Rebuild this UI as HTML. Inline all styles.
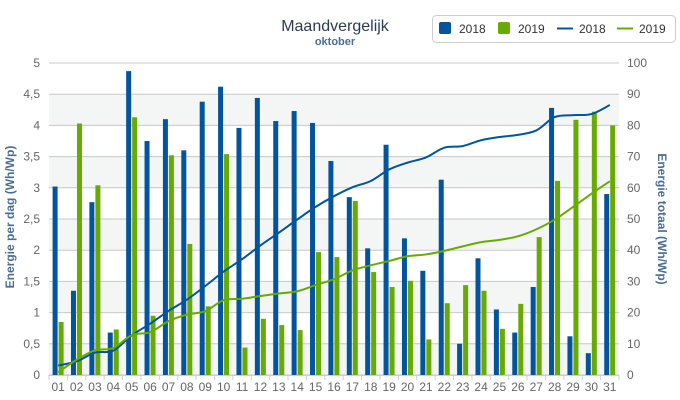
<!DOCTYPE html>
<html><head><meta charset="utf-8"><style>
html,body{margin:0;padding:0;background:#fff;}
svg{display:block;font-family:"Liberation Sans",sans-serif;}
</style></head><body>
<svg id="s" width="680" height="400" xmlns="http://www.w3.org/2000/svg"></svg>
<script>
const B=[3.02,1.35,2.77,0.68,4.87,3.75,4.1,3.6,4.38,4.62,3.96,4.44,4.07,4.23,4.04,3.43,2.85,2.03,3.69,2.19,1.67,3.13,0.5,1.87,1.05,0.68,1.41,4.28,0.62,0.35,2.9];
const G=[0.85,4.03,3.04,0.73,4.13,0.95,3.52,2.1,1.1,3.54,0.44,0.9,0.8,0.72,1.97,1.89,2.79,1.65,1.41,1.51,0.57,1.15,1.44,1.35,0.74,1.14,2.21,3.11,4.09,4.22,4.0];
const L=49,R=619,T=63,Bt=375,H=Bt-T,W=R-L,sw=W/31;
const y=v=>Bt-v/5*H, y2=v=>Bt-v/100*H;
let s='';
for(let i=0;i<10;i+=2){s+=`<rect x="${L}" y="${y(i*0.5+0.5)}" width="${W}" height="${H/10}" fill="#f4f5f5"/>`;}
for(let i=0;i<=10;i++){const yy=y(i*0.5);s+=`<line x1="${L}" x2="${R}" y1="${yy}" y2="${yy}" stroke="#c8c8c8" stroke-width="1"/>`;
s+=`<text x="40" y="${yy+4}" text-anchor="end" font-size="12" fill="#666">${String(i*0.5).replace('.',',')}</text>`;
s+=`<text x="627" y="${yy+4}" font-size="12" fill="#666">${i*10}</text>`;}
let cb=0,cg=0,pb=[],pg=[];
for(let i=0;i<31;i++){const x0=L+i*sw;
s+=`<rect x="${x0+3.6}" y="${y(B[i])}" width="5" height="${Bt-y(B[i])}" fill="#02559c"/>`;
s+=`<rect x="${x0+9.6}" y="${y(G[i])}" width="5" height="${Bt-y(G[i])}" fill="#67ab02"/>`;
cb+=B[i];cg+=G[i];const xc=x0+sw/2;pb.push([xc,y2(cb)]);pg.push([xc,y2(cg)]);
s+=`<line x1="${x0}" x2="${x0}" y1="${Bt}" y2="${Bt+5}" stroke="#c0d0e0"/>`;
s+=`<text x="${xc}" y="${Bt+16}" text-anchor="middle" font-size="12" fill="#666">${String(i+1).padStart(2,'0')}</text>`;}
s+=`<line x1="${R}" x2="${R}" y1="${Bt}" y2="${Bt+5}" stroke="#c0d0e0"/><line x1="${L}" x2="${R}" y1="${Bt+0.5}" y2="${Bt+0.5}" stroke="#c0d0e0"/>`;
function path(p){let d=`M${p[0][0]},${p[0][1]}`;const n=p.length,k=1/6;
for(let i=0;i<n-1;i++){const p0=p[Math.max(0,i-1)],p1=p[i],p2=p[i+1],p3=p[Math.min(n-1,i+2)];
d+=` C${p1[0]+(p2[0]-p0[0])*k},${p1[1]+(p2[1]-p0[1])*k} ${p2[0]-(p3[0]-p1[0])*k},${p2[1]-(p3[1]-p1[1])*k} ${p2[0]},${p2[1]}`;}return d;}
s+=`<path d="${path(pb)}" fill="none" stroke="#02559c" stroke-width="2"/>`;
s+=`<path d="${path(pg)}" fill="none" stroke="#67ab02" stroke-width="2"/>`;
s+=`<text x="335" y="31" text-anchor="middle" font-size="16" fill="#2b3d55">Maandvergelijk</text>`;
s+=`<text x="335" y="45" text-anchor="middle" font-size="11" font-weight="bold" fill="#4a6d94">oktober</text>`;
s+=`<rect x="432.5" y="15.5" width="243" height="27" rx="4" fill="#fff" stroke="#ccc"/>`;
s+=`<rect x="439" y="22" width="12" height="12" rx="2" fill="#02559c"/><text x="459" y="33" font-size="12" fill="#333">2018</text>`;
s+=`<rect x="498" y="22" width="12" height="12" rx="2" fill="#67ab02"/><text x="518" y="33" font-size="12" fill="#333">2019</text>`;
s+=`<line x1="557" x2="573" y1="28.5" y2="28.5" stroke="#02559c" stroke-width="2"/><text x="579" y="33" font-size="12" fill="#333">2018</text>`;
s+=`<line x1="617" x2="633" y1="28.5" y2="28.5" stroke="#67ab02" stroke-width="2"/><text x="639" y="33" font-size="12" fill="#333">2019</text>`;
s+=`<text transform="translate(14,217) rotate(-90)" text-anchor="middle" font-size="12" font-weight="bold" fill="#4a6d94">Energie per dag (Wh/Wp)</text>`;
s+=`<text transform="translate(658,219) rotate(90)" text-anchor="middle" font-size="12" font-weight="bold" fill="#4a6d94">Energie totaal (Wh/Wp)</text>`;
document.getElementById('s').innerHTML=s;
</script>
</body></html>
